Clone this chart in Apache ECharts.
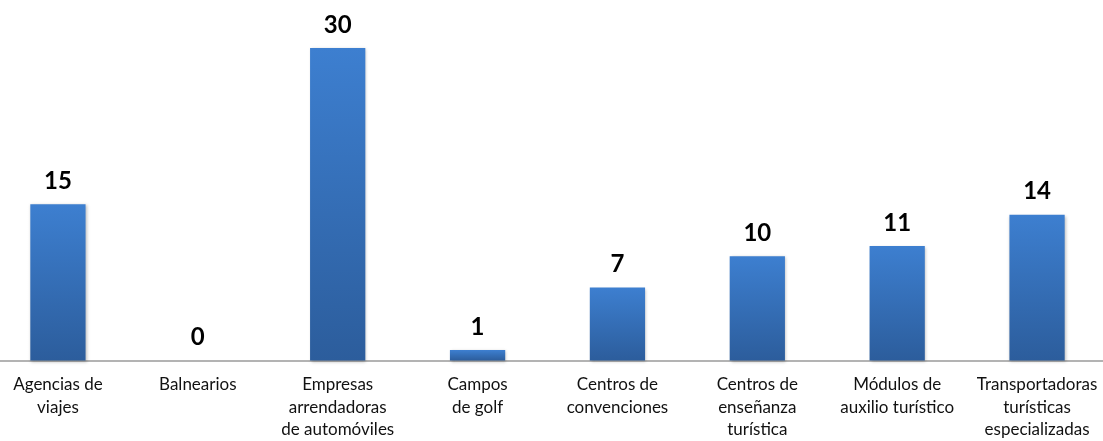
<!DOCTYPE html>
<html>
<head>
<meta charset="utf-8">
<script src="https://cdn.jsdelivr.net/npm/echarts@6/dist/echarts.min.js"></script>
<style>
html,body{margin:0;padding:0;background:#fff;overflow:hidden;width:1103px;height:441px;}
#c{width:1119px;height:441px;margin-left:-12px;}
</style>
</head>
<body>
<div id="c"></div>
<script>
var categories = [
  "Agencias de\nviajes",
  "Balnearios",
  "Empresas\narrendadoras\nde automóviles",
  "Campos\nde golf",
  "Centros de\nconvenciones",
  "Centros de\nenseñanza\nturística",
  "Módulos de\nauxilio turístico",
  "Transportadoras\nturísticas\nespecializadas"
];
var values = [15, 0, 30, 1, 7, 10, 11, 14];

var chart = echarts.init(document.getElementById('c'));
chart.setOption({
  animation: false,
  backgroundColor: '#ffffff',
  grid: { left: 0, right: 0, top: 48, bottom: 80, containLabel: false },
  xAxis: {
    type: 'category',
    data: categories,
    axisLine: { show: true, lineStyle: { color: '#9a9a9a', width: 1.5 } },
    axisTick: { show: false },
    axisLabel: {
      interval: 0,
      margin: 13,
      color: '#111',
      fontFamily: 'Lato',
      fontSize: 17,
      lineHeight: 22.5,
      align: 'center'
    }
  },
  yAxis: {
    type: 'value',
    min: 0,
    max: 30,
    show: false,
    splitLine: { show: false }
  },
  series: [{
    type: 'bar',
    data: values,
    barWidth: '39.5%',
    itemStyle: {
      color: new echarts.graphic.LinearGradient(0, 0, 0, 1, [
        { offset: 0, color: '#3d7fd0' },
        { offset: 1, color: '#2c5d9c' }
      ]),
      shadowColor: 'rgba(0,0,0,0.25)',
      shadowBlur: 3,
      shadowOffsetX: 1,
      shadowOffsetY: 1
    },
    label: {
      show: true,
      position: 'top',
      distance: 11,
      color: '#000',
      fontFamily: 'Lato',
      fontWeight: 'bold',
      fontSize: 24
    }
  }]
});
</script>
</body>
</html>
